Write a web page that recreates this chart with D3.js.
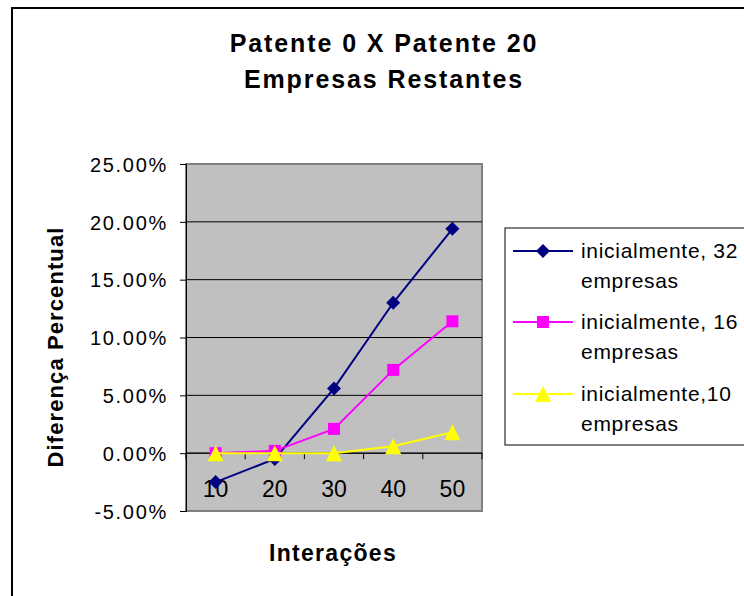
<!DOCTYPE html>
<html><head><meta charset="utf-8">
<script src="https://cdn.jsdelivr.net/npm/d3@7"></script>
<style>body{margin:0;background:#fff}svg{display:block}text{font-family:"Liberation Sans",Arial,sans-serif}</style>
</head><body>
<script>
const categories = ["10","20","30","40","50"];
const s32 = [-2.5, -0.5, 5.6, 13.0, 19.4];
const s16 = [0.0, 0.2, 2.1, 7.2, 11.4];
const s10 = [0.0, 0.0, 0.0, 0.6, 1.8];
const seriesNames = ["inicialmente, 32","inicialmente, 16","inicialmente,10"];
const seriesNames2 = ["empresas","empresas","empresas"];
const seriesColors = ["#000080","#FF00FF","#FFFF00"];
const seriesShapes = ["diamond","square","triangle"];
const yTicks = [-5,0,5,10,15,20,25];
const titleLines = ["Patente 0 X Patente 20","Empresas Restantes"];

const W=744,H=596;
const svg=d3.select("body").append("svg").attr("width",W).attr("height",H);
svg.append("rect").attr("x",12).attr("y",8).attr("width",W).attr("height",H).attr("fill","#fff").attr("stroke","#000").attr("stroke-width",2);

const pl=186,pr=482,pt=164,pb=511;
const x=d3.scaleBand().domain(categories).range([pl,pr]);
const y=d3.scaleLinear().domain([-5,25]).range([pb,pt]);

svg.append("rect").attr("x",pl).attr("y",pt).attr("width",pr-pl).attr("height",pb-pt).attr("fill","#C0C0C0").attr("stroke","#808080").attr("stroke-width",2);

// gridlines
svg.append("g").selectAll("line").data(yTicks.filter(d=>d!==-5&&d!==25)).join("line")
 .attr("x1",pl).attr("x2",pr).attr("y1",d=>y(d)).attr("y2",d=>y(d)).attr("stroke","#000").attr("stroke-width",1);

// y axis
const ya=svg.append("g").attr("transform",`translate(${pl},0)`).call(d3.axisLeft(y).tickValues(yTicks).tickSize(6).tickPadding(12).tickFormat(d=>d.toFixed(2)+"%"));
ya.select(".domain").attr("stroke","#000").attr("stroke-width",1);
ya.selectAll(".tick line").attr("stroke","#000");
ya.selectAll("text").attr("font-size",20).attr("letter-spacing",1.7).attr("dy","0.36em").attr("fill","#000").style("font-family","Liberation Sans, Arial");

// x axis at zero
const xa=svg.append("g").attr("transform",`translate(0,${y(0)})`);
xa.append("line").attr("x1",pl).attr("x2",pr).attr("stroke","#000");
const bounds=categories.map(c=>x(c)).concat([pr]);
xa.selectAll("line.tk").data(bounds).join("line").attr("class","tk").attr("x1",d=>d).attr("x2",d=>d).attr("y1",0).attr("y2",6).attr("stroke","#000");
xa.selectAll("text").data(categories).join("text").attr("x",d=>x(d)+x.bandwidth()/2).attr("y",44).attr("text-anchor","middle").attr("font-size",23).attr("fill","#000").text(d=>d);

// lines and markers (series drawn in order, later series on top)
const shapePath={
  diamond:()=>"M0,-7L7,0L0,7L-7,0Z",
  square:()=>"M-6,-6H6V6H-6Z",
  triangle:()=>"M0,-8L8,8L-8,8Z"
};
const data=[s32,s16,s10];
const line=d3.line().x((d,i)=>x(categories[i])+x.bandwidth()/2).y(d=>y(d));
[0,1,2].forEach(k=>{
  const g=svg.append("g");
  g.append("path").datum(data[k]).attr("d",line).attr("fill","none").attr("stroke",seriesColors[k]).attr("stroke-width",2);
  g.append("g").selectAll("path").data(data[k]).join("path")
   .attr("transform",(d,i)=>`translate(${x(categories[i])+x.bandwidth()/2},${y(d)})`)
   .attr("d",shapePath[seriesShapes[k]]())
   .attr("fill",seriesColors[k]);
});

// title
svg.append("g").selectAll("text").data(titleLines).join("text")
 .attr("x",384).attr("y",(d,i)=>52+i*36).attr("text-anchor","middle").attr("font-size",25).attr("font-weight","bold").attr("letter-spacing",1.9).attr("fill","#000").text(d=>d);

// axis titles
svg.append("text").attr("transform","translate(63,347) rotate(-90)").attr("text-anchor","middle").attr("font-size",22).attr("font-weight","bold").attr("letter-spacing",1.1).text("Diferença Percentual");
svg.append("text").attr("x",333).attr("y",561).attr("text-anchor","middle").attr("font-size",23).attr("font-weight","bold").attr("letter-spacing",1.3).text("Interações");

// legend
const lg=svg.append("g");
lg.append("rect").attr("x",505).attr("y",228).attr("width",260).attr("height",217).attr("fill","#fff").attr("stroke","#000").attr("stroke-width",1);
const rows=[251,322,394];
seriesNames.forEach((n,k)=>{
  const g=lg.append("g").attr("transform",`translate(0,${rows[k]})`);
  g.append("line").attr("x1",513).attr("x2",573).attr("stroke",seriesColors[k]).attr("stroke-width",2);
  g.append("path").attr("transform","translate(543,0)").attr("d",shapePath[seriesShapes[k]]()).attr("fill",seriesColors[k]);
  g.append("text").attr("x",581).attr("y",7).attr("font-size",21).attr("letter-spacing",0.7).text(n);
  g.append("text").attr("x",581).attr("y",37).attr("font-size",21).attr("letter-spacing",0.7).text(seriesNames2[k]);
});
</script>
</body></html>
